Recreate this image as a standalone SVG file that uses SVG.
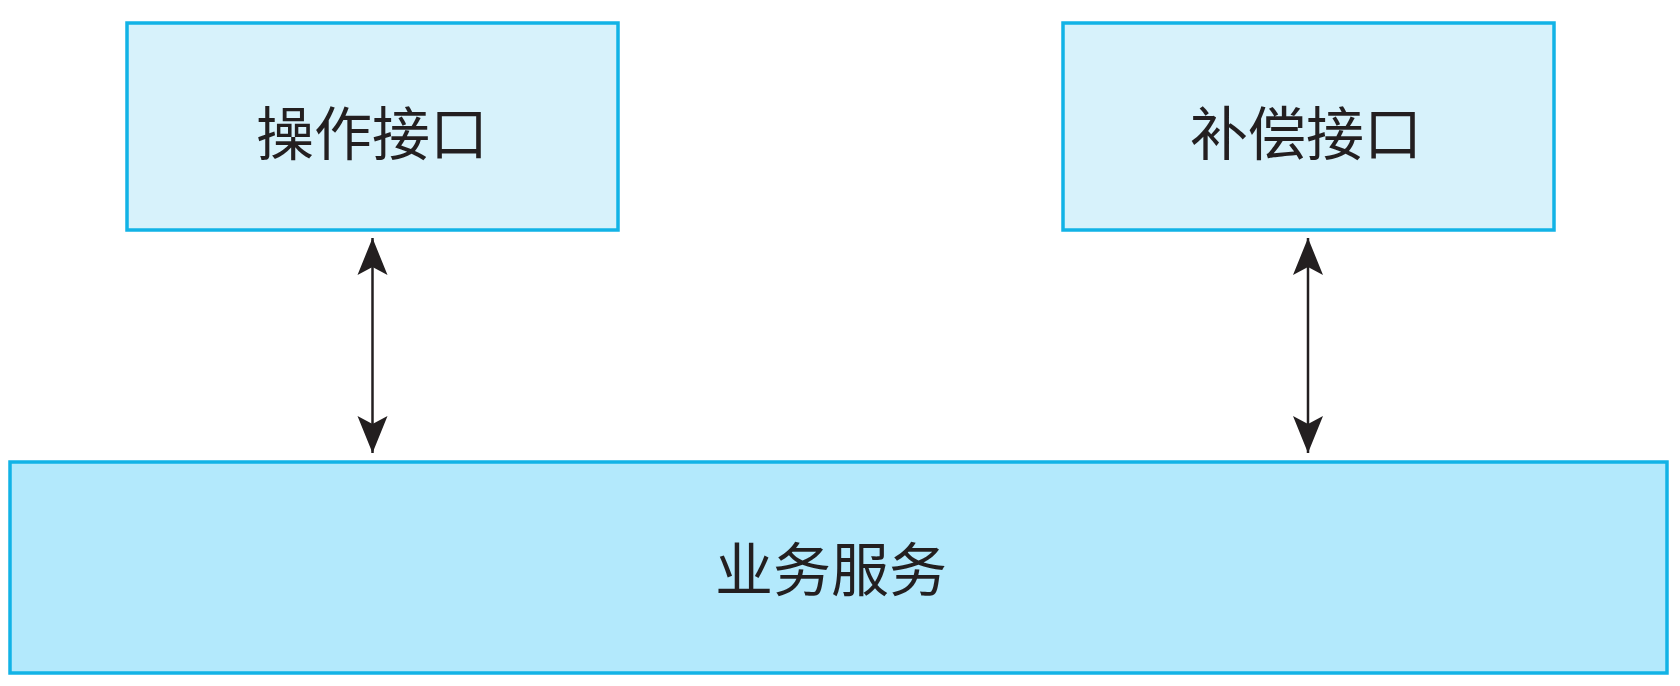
<svg xmlns="http://www.w3.org/2000/svg" width="1680" height="686" viewBox="0 0 1680 686">
<style>
.top{fill:#d7f2fb;stroke:#12b3e6;stroke-width:3.5}
.bot{fill:#b3e9fc;stroke:#12b3e6;stroke-width:3.5}
.lbl{font-family:"Noto Sans CJK SC",sans-serif;font-size:58px;fill:#231f20;text-anchor:middle;dominant-baseline:central}
.conn{stroke:#231f20;stroke-width:2.5;fill:none}
</style>
<defs>
<marker id="a2" markerUnits="userSpaceOnUse" markerWidth="40" markerHeight="34" viewBox="0 -17 40 34" refX="37" refY="0" orient="auto-start-reverse">
<path d="M37,0 L0,-15 L8,0 L0,15 Z" fill="#231f20"/>
</marker>
</defs>
<g id="op">
<rect class="top" x="127" y="23" width="491" height="207"/>
<text class="lbl" x="372" y="130">操作接口</text>
</g>
<g id="comp">
<rect class="top" x="1063" y="23" width="491" height="207"/>
<text class="lbl" x="1306" y="130">补偿接口</text>
</g>
<g id="svc">
<rect class="bot" x="10" y="462" width="1657" height="211"/>
<text class="lbl" x="831" y="566">业务服务</text>
</g>
<g id="connectors">
<line class="conn" x1="372.5" y1="238" x2="372.5" y2="453" marker-start="url(#a2)" marker-end="url(#a2)"/>
<line class="conn" x1="1308" y1="238" x2="1308" y2="453" marker-start="url(#a2)" marker-end="url(#a2)"/>
</g>
</svg>
